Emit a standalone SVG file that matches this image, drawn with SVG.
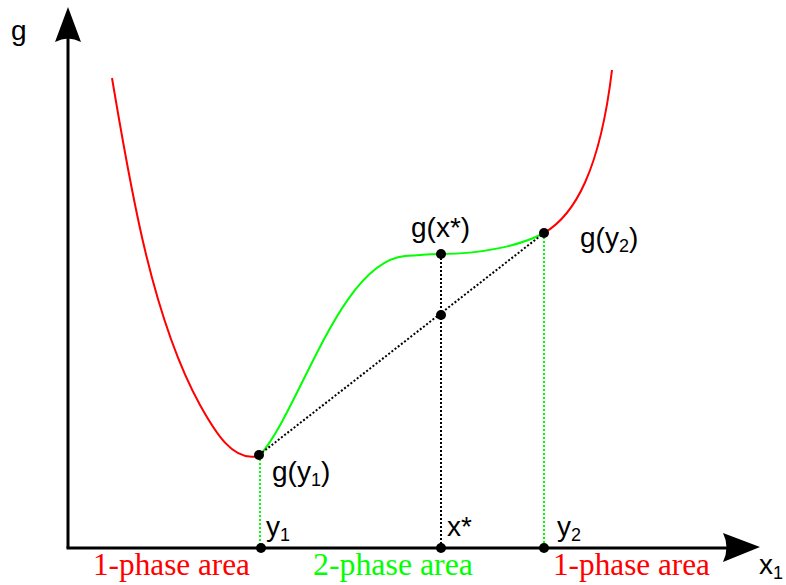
<svg xmlns="http://www.w3.org/2000/svg" width="786" height="585" viewBox="0 0 786 585">
<style>
.axis{stroke:#000;stroke-width:3;fill:none}
.red{stroke:#ff0000;stroke-width:2;fill:none}
.grn{stroke:#00ff00;stroke-width:2;fill:none}
.dotk{stroke:#000;stroke-width:2;stroke-dasharray:2 2;fill:none}
.dotg{stroke:#00ff00;stroke-width:2;stroke-dasharray:2 2;fill:none}
.dot{fill:#000}
.lab{font-family:"Liberation Sans",Arial,sans-serif;font-size:28px;fill:#000}
.sub{font-size:18px}
.area{font-family:"Liberation Serif","Times New Roman",serif;font-size:31px}
</style>
<g id="axes">
<line class="axis" x1="68" y1="548" x2="68" y2="36"/>
<line class="axis" x1="66.5" y1="548" x2="728" y2="548"/>
<path d="M68,7 L81,42 Q68,35 55,42 Z" fill="#000"/>
<path d="M760,547 L723,533 Q730,547 723,562 Z" fill="#000"/>
</g>
<g id="curves">
<path class="red" d="M112,78 C129,178 150.5,315 200,405 C215,432 233,462 258,456"/>
<path class="grn" d="M260,455 C300,410 340,262 405,256 C420,255 432,254 441,254 C480,254 520,246 544,233"/>
<path class="red" d="M544,233 C575,215 600,170 612,70"/>
</g>
<g id="connectors">
<line class="dotk" x1="259" y1="455" x2="544" y2="233"/>
<line class="dotk" x1="441" y1="254" x2="441" y2="548"/>
<line class="dotg" x1="260" y1="455" x2="260" y2="548"/>
<line class="dotg" x1="544" y1="233" x2="544" y2="548"/>
</g>
<g id="p-y1">
<circle class="dot" cx="259" cy="455" r="5"/>
<circle class="dot" cx="261" cy="548" r="5"/>
</g>
<g id="p-xstar">
<circle class="dot" cx="441" cy="254" r="5"/>
<circle class="dot" cx="441" cy="315" r="5"/>
<circle class="dot" cx="441" cy="548" r="5"/>
</g>
<g id="p-y2">
<circle class="dot" cx="544" cy="233" r="5"/>
<circle class="dot" cx="544" cy="548" r="5"/>
</g>
<g id="labels">
<text class="lab" x="11" y="40">g</text>
<text class="lab" x="411" y="237">g(x*)</text>
<text class="lab" x="580" y="247">g(y<tspan class="sub" dy="5">2</tspan><tspan dy="-5">)</tspan></text>
<text class="lab" x="272" y="481">g(y<tspan class="sub" dy="5">1</tspan><tspan dy="-5">)</tspan></text>
<text class="lab" x="266" y="536">y<tspan class="sub" dy="5">1</tspan></text>
<text class="lab" x="447" y="536">x*</text>
<text class="lab" x="557" y="536">y<tspan class="sub" dy="5">2</tspan></text>
<text class="lab" x="759" y="574">x<tspan class="sub" dy="5">1</tspan></text>
<text class="area" x="93" y="575" fill="#ff0000" textLength="157" lengthAdjust="spacingAndGlyphs">1-phase area</text>
<text class="area" x="313" y="575" fill="#00ff00" textLength="160" lengthAdjust="spacingAndGlyphs">2-phase area</text>
<text class="area" x="553" y="575" fill="#ff0000" textLength="157" lengthAdjust="spacingAndGlyphs">1-phase area</text>
</g>
</svg>
